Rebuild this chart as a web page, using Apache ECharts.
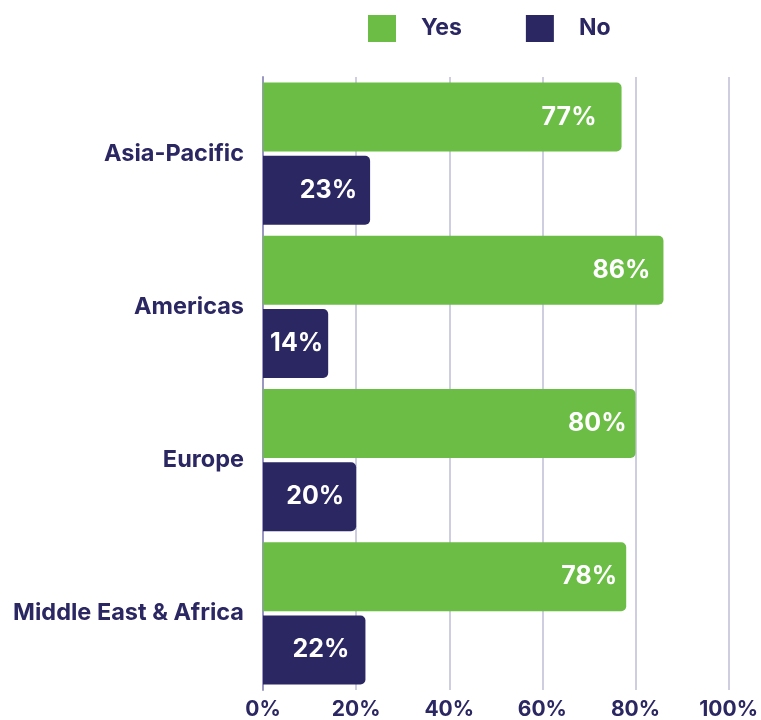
<!DOCTYPE html>
<html>
<head>
<meta charset="utf-8">
<script src="https://cdn.jsdelivr.net/npm/echarts@6/dist/echarts.min.js"></script>
<style>
  html, body { margin: 0; padding: 0; background: #ffffff; }
  #chart { width: 761px; height: 720px; }
</style>
</head>
<body>
<div id="chart"></div>
<script>
// Survey answers by region (percent of respondents)
const regions = ['Asia-Pacific', 'Americas', 'Europe', 'Middle East & Africa'];
const yesValues = [77, 86, 80, 78];
const noValues = [23, 14, 20, 22];
const seriesNames = ['Yes', 'No'];
const xTicks = [0, 20, 40, 60, 80, 100];
// gap between each value label and the end of its bar (px)
const yesLabelGaps = [25, 13, 9, 9];
const noLabelGaps = [13, 5, 12, 16];

const GREEN = '#6cbd45';
const NAVY = '#2b2762';
const FONT = 'Inter, "Open Sans", sans-serif';

const chart = echarts.init(document.getElementById('chart'), null, { renderer: 'canvas' });

function barSeries(name, values, gaps, color) {
  return {
    name: name,
    type: 'bar',
    data: values.map((v, i) => ({ value: v, label: { distance: gaps[i] } })),
    barWidth: 69,
    barGap: '6%',
    itemStyle: { color: color, borderRadius: [0, 5, 5, 0] },
    label: {
      show: true,
      position: 'insideRight',
      formatter: '{c}%',
      color: '#ffffff',
      fontFamily: FONT,
      fontWeight: 'bold',
      fontSize: 25
    }
  };
}

chart.setOption({
  animation: false,
  backgroundColor: '#ffffff',
  legend: {
    data: seriesNames,
    left: 368,
    top: 15,
    padding: 0,
    itemWidth: 28,
    itemHeight: 27,
    itemGap: 64,
    icon: 'rect',
    textStyle: {
      color: NAVY,
      fontFamily: FONT,
      fontWeight: 'bold',
      fontSize: 23,
      padding: [0, 0, 0, 20]
    }
  },
  grid: { left: 263, right: 30, top: 77, height: 618, containLabel: false },
  xAxis: {
    type: 'value',
    min: xTicks[0],
    max: xTicks[xTicks.length - 1],
    interval: xTicks[1] - xTicks[0],
    axisLine: { show: false },
    axisTick: { show: false },
    axisLabel: {
      formatter: '{value}%',
      color: NAVY,
      fontFamily: FONT,
      fontWeight: 'bold',
      fontSize: 21,
      margin: 9
    },
    splitLine: { show: true, lineStyle: { color: '#cfcde0', width: 2 } }
  },
  yAxis: {
    type: 'category',
    data: regions,
    inverse: true,
    axisLine: { show: true, lineStyle: { color: '#9a97c0', width: 2 } },
    axisTick: { show: false },
    axisLabel: {
      color: NAVY,
      fontFamily: FONT,
      fontWeight: 'bold',
      fontSize: 23.5,
      margin: 19
    }
  },
  series: [
    barSeries(seriesNames[0], yesValues, yesLabelGaps, GREEN),
    barSeries(seriesNames[1], noValues, noLabelGaps, NAVY)
  ]
});
</script>
</body>
</html>
